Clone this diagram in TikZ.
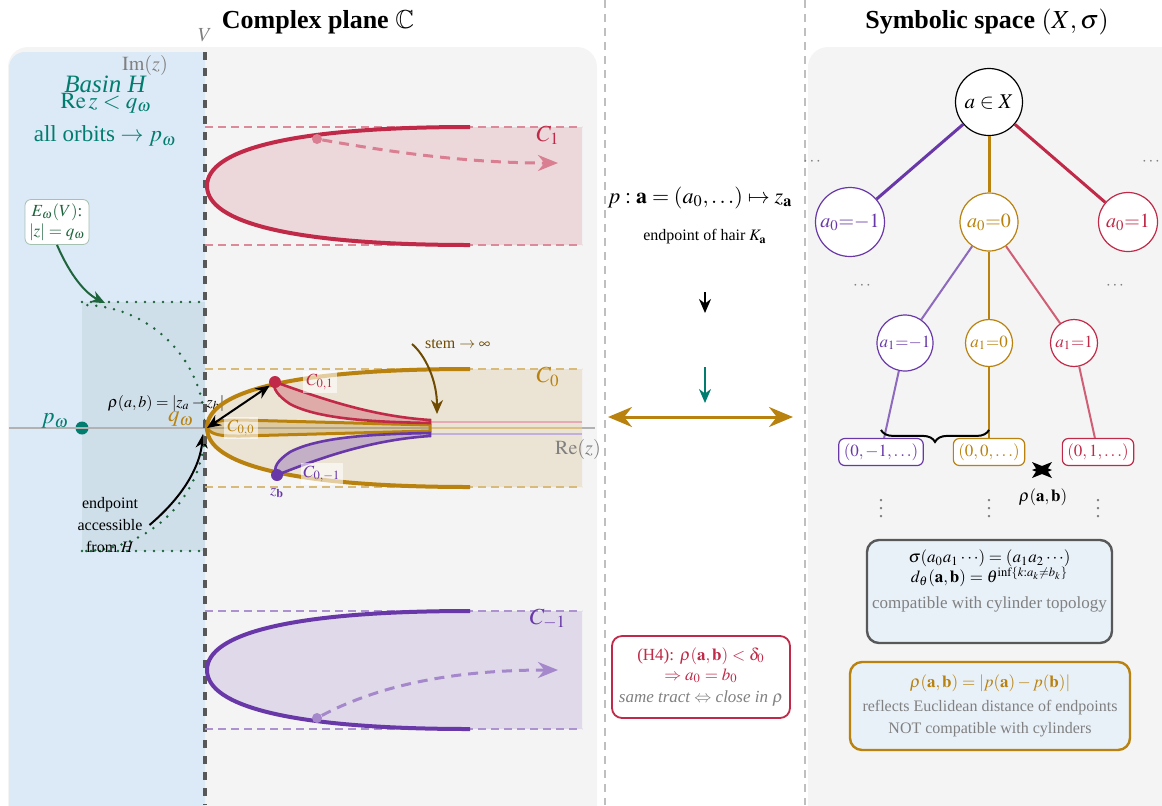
\documentclass[tikz,border=0pt]{standalone}
\usepackage{mathptmx}
\usepackage{amssymb}
\usepackage[no-math]{fontspec}
\setmainfont{Liberation Serif}
\usetikzlibrary{arrows.meta,positioning,decorations.pathreplacing}

\definecolor{panelgray}{RGB}{244,244,244}
\definecolor{basinblue}{RGB}{220,233,246}
\definecolor{accblue}{RGB}{207,223,234}
\definecolor{crim}{RGB}{192,42,72}
\definecolor{purp}{RGB}{104,56,168}
\definecolor{goldc}{RGB}{185,130,14}
\definecolor{tealc}{RGB}{0,125,110}
\definecolor{greenc}{RGB}{30,100,60}
\definecolor{stemc}{RGB}{110,75,0}
\definecolor{boxblue}{RGB}{232,240,248}
\definecolor{darkgr}{RGB}{88,88,88}

\tikzset{
  ftitle/.style={font=\fontsize{13}{15}\selectfont\bfseries},
  fbig/.style={font=\fontsize{11.5}{13.5}\selectfont},
  fmid/.style={font=\fontsize{10}{12}\selectfont},
  fsmall/.style={font=\fontsize{8.5}{10}\selectfont},
  ftiny/.style={font=\fontsize{8}{10}\selectfont},
  sepline/.style={gray!50, line width=0.6pt, dash pattern=on 4pt off 3pt},
  vline/.style={darkgr, line width=1.6pt, dash pattern=on 4pt off 4pt},
  tractline/.style={line width=2pt},
  tractedge/.style={line width=0.8pt, dash pattern=on 4pt off 2.5pt},
  greendots/.style={greenc, line width=1.4pt, dash pattern=on 0pt off 4.5pt, line cap=round},
  flow/.style={line width=1.5pt, dash pattern=on 5pt off 3.5pt, -{Stealth[length=10pt,width=8pt]}},
  ptdot/.style={circle, inner sep=0pt, minimum size=6pt},
  lvlnode/.style={circle, draw, fill=white, inner sep=0pt, line width=0.6pt},
  leaf/.style={draw, fill=white, rounded corners=3pt, inner sep=2.5pt, line width=0.6pt, fsmall},
  sublbl/.style={fill=white, fill opacity=0.6, text opacity=1, inner sep=1.5pt, fsmall},
  ebox/.style={draw=greenc!40, fill=white, rounded corners=3pt, text=greenc, align=center, fsmall, inner sep=2pt},
  h4box/.style={draw=crim, line width=0.9pt, fill=white, rounded corners=5pt, text=crim, align=center, fsmall, minimum width=89pt, minimum height=41pt},
  infobox/.style={fill=boxblue, line width=1.2pt, rounded corners=6pt},
  thinarrow/.style={line width=1pt, -{Stealth[length=7pt,width=6pt]}},
}

\begin{document}
\begin{tikzpicture}[x=0.5pt, y=-0.5pt]
\useasboundingbox (0,0) rectangle (1162,805);

% panels
\fill[panelgray, rounded corners=10pt] (8,47) rectangle (597,840);
\fill[panelgray, rounded corners=10pt] (808,47) rectangle (1200,840);
\fill[basinblue] (205,840) -- (205,52) [rounded corners=8pt] -- (9,52) [sharp corners] -- (9,840) -- cycle;
\draw[sepline] (605,0) -- (605,805);
\draw[sepline] (805,0) -- (805,805);

% titles
\node[ftitle] (ttlC) at (318,22) {Complex plane $\mathbb{C}$};
\node[ftitle] (ttlX) at (987,22) {Symbolic space $(X,\sigma)$};

% basin H
\node[font=\fontsize{12.5}{15}\selectfont\itshape, text=tealc] (lblbasin) at (105,84) {Basin H};
\node[fbig, text=tealc] (lblre) at (106,103) {$\mathrm{Re}\,z<q_\omega$};
\node[fbig, text=tealc] (lblorb) at (105,136) {all orbits $\to p_\omega$};
\node[fmid, text=gray] (lblim) at (145,65) {$\mathrm{Im}(z)$};
\node[fmid, text=gray] (lblV) at (205,35) {$V$};

\fill[accblue] (82,302) rectangle (205,551);
\draw[greendots] (82,302) -- (205,302);
\draw[greendots] (82,551) -- (205,551);
\begin{scope}
  \clip (82,300) rectangle (205,553);
  \draw[greendots] (82,428) circle[radius=123];
\end{scope}

\node[ptdot, fill=tealc, minimum size=6.5pt] (pw) at (82,428) {};
\draw[gray!60, line width=0.9pt] (9,428) -- (595,428);
\node[fbig, text=tealc] (lblpw) at (55,421) {$p_\omega$};
\node[fbig, text=goldc] (lblqw) at (181,419) {$q_\omega$};
\coordinate (qw) at (207,428);

\node[ebox] (ebox) at (57,222) {$E_\omega(V)$:\\$|z|=q_\omega$};
\draw[thinarrow, greenc] (ebox.south) .. controls (70,275) and (85,293) .. (105,303);

\node[ftiny, align=center] (lblacc) at (110,525) {endpoint\\[1pt]accessible\\[1pt]from $H$};
\draw[thinarrow] (lblacc.east) .. controls (185,495) and (200,465) .. (203,434);

\node[ftiny] (lblrho) at (166,403) {$\rho(a,b)=|z_a-z_b|$};

\draw[vline] (205,52) -- (205,805);

% tracts C_1, C_0, C_{-1}
\foreach \cy/\col/\nm/\lab in {186/crim/c1/{C_1}, 428/goldc/c0/{C_0}, 670/purp/cm/{C_{-1}}}{
  \fill[\col, fill opacity=0.14] (470,\cy-59) .. controls (290,\cy-59) and (207,\cy-36) .. (207,\cy)
     .. controls (207,\cy+36) and (290,\cy+59) .. (470,\cy+59) -- (582,\cy+59) -- (582,\cy-59) -- cycle;
  \draw[tractedge, \col!55] (205,\cy-59) -- (582,\cy-59);
  \draw[tractedge, \col!55] (205,\cy+59) -- (582,\cy+59);
  \draw[tractline, \col] (470,\cy-59) .. controls (290,\cy-59) and (207,\cy-36) .. (207,\cy)
     .. controls (207,\cy+36) and (290,\cy+59) .. (470,\cy+59);
  \node[fbig, text=\col] (lbl\nm) at (548,\cy-51) {$\lab$};
}
\draw[gray!60, line width=0.9pt] (207,428) -- (595,428);

% escaping orbits
\node[ptdot, fill=crim!60, minimum size=5pt] (s1) at (317,139) {};
\coordinate (e1) at (558,163);
\draw[flow, crim!60] (s1) .. controls (380,150) and (460,163) .. (e1);
\node[ptdot, fill=purp!60, minimum size=5pt] (sm) at (317,718) {};
\coordinate (em) at (558,670);
\draw[flow, purp!60] (sm) .. controls (370,690) and (440,670) .. (em);

% sub-tracts of C_0
\draw[crim!40, line width=1pt] (430,422) -- (582,422);
\draw[goldc!50, line width=1pt] (430,428) -- (582,428);
\draw[purp!40, line width=1pt] (430,434) -- (582,434);
\filldraw[draw=goldc, fill=goldc, fill opacity=0.25, line width=1.5pt] (207,428) .. controls (212,421) and (220,420) .. (240,420)
  -- (430,425) -- (430,431) -- (240,436) .. controls (220,436) and (212,435) .. (207,428) -- cycle;
\filldraw[draw=crim, fill=crim, fill opacity=0.3, line width=1.3pt] (275,382) .. controls (320,398) and (370,416) .. (430,420)
  -- (430,423) .. controls (380,422) and (320,420) .. (290,404) .. controls (278,396) and (272,388) .. (275,382) -- cycle;
\filldraw[draw=purp, fill=purp, fill opacity=0.3, line width=1.3pt] (277,475) .. controls (320,458) and (370,440) .. (430,436)
  -- (430,433) .. controls (380,434) and (320,436) .. (290,452) .. controls (278,460) and (272,468) .. (277,475) -- cycle;
\node[ptdot, fill=crim] (za) at (275,382) {};
\node[ptdot, fill=purp] (zb) at (277,475) {};
\node[sublbl, text=crim] (lblc01) at (320,382) {$C_{0,1}$};
\node[sublbl, text=goldc] (lblc00) at (241,428) {$C_{0,0}$};
\node[sublbl, text=purp] (lblc0m) at (322,474) {$C_{0,-1}$};
\node[ftiny, text=purp] (lblzb) at (277,493) {$z_{\mathbf{b}}$};
\draw[line width=1pt, {Stealth[length=7pt,width=6pt]}-{Stealth[length=7pt,width=6pt]}] (qw) -- (za);

\node[ftiny, text=stemc, anchor=west] (lblstem) at (418,344) {stem $\to\infty$};
\draw[thinarrow, stemc] ([xshift=-3pt]lblstem.west) .. controls (425,355) and (437,380) .. (437,414);
\node[fmid, text=gray] (lblrez) at (578,449) {$\mathrm{Re}(z)$};

% middle column
\node[font=\fontsize{11}{13}\selectfont] (pmap) at (700,198) {$p:\mathbf{a}=(a_0,\dots)\mapsto z_{\mathbf{a}}$};
\node[ftiny] (lblhair) at (705,237) {endpoint of hair $K_{\mathbf{a}}$};
\coordinate (ar1s) at (705,292);
\coordinate (ar1e) at (705,313);
\draw[thinarrow] (ar1s) -- (ar1e);
\coordinate (ar2s) at (705,367);
\coordinate (ar2e) at (705,403);
\draw[thinarrow, tealc] (ar2s) -- (ar2e);
\coordinate (pl) at (608,417);
\coordinate (pr) at (793,417);
\draw[goldc, line width=1.5pt, {Stealth[length=12pt,width=10pt]}-{Stealth[length=12pt,width=10pt]}] (pl) -- (pr);
\node[h4box] (h4) at (701,677) {(H4): $\rho(\mathbf{a},\mathbf{b})<\delta_0$\\ $\Rightarrow a_0=b_0$\\[1pt] {\color{gray}\itshape same tract $\Leftrightarrow$ close in $\rho$}};

% symbolic tree
\node[fsmall, text=gray] (dotsL) at (812,162) {$\cdots$};
\node[fsmall, text=gray] (dotsR) at (1151,162) {$\cdots$};
\node[lvlnode, draw=black, minimum size=33.5pt, font=\fontsize{10.5}{12}\selectfont] (root) at (989,102) {$a\in X$};
\node[lvlnode, draw=purp, text=purp, minimum size=34.5pt, fmid] (n0m) at (850,222) {$a_0{=}{-}1$};
\node[lvlnode, draw=goldc, text=goldc, minimum size=29pt, fmid] (n00) at (989,222) {$a_0{=}0$};
\node[lvlnode, draw=crim, text=crim, minimum size=29.5pt, fmid] (n0p) at (1128,222) {$a_0{=}1$};
\draw[purp, line width=1.5pt] (root) -- (n0m);
\draw[goldc, line width=1.5pt] (root) -- (n00);
\draw[crim, line width=1.5pt] (root) -- (n0p);
\node[fsmall, text=gray] (dots1) at (862,286) {$\cdots$};
\node[fsmall, text=gray] (dots2) at (1115,286) {$\cdots$};

\node[lvlnode, draw=purp, text=purp, minimum size=28pt, fsmall] (n1m) at (905,343) {$a_1{=}{-}1$};
\node[lvlnode, draw=goldc, text=goldc, minimum size=23.5pt, fsmall] (n10) at (989,343) {$a_1{=}0$};
\node[lvlnode, draw=crim, text=crim, minimum size=23.5pt, fsmall] (n1p) at (1074,343) {$a_1{=}1$};
\draw[purp!75, line width=1pt] (n00) -- (n1m);
\draw[goldc, line width=1.3pt] (n00) -- (n10);
\draw[crim!75, line width=1pt] (n00) -- (n1p);

\node[leaf, draw=purp, text=purp] (lm) at (881,452) {$(0,-1,\dots)$};
\node[leaf, draw=goldc, text=goldc] (l0) at (989,452) {$(0,0,\dots)$};
\node[leaf, draw=crim, text=crim] (lp) at (1098,452) {$(0,1,\dots)$};
\draw[purp!75, line width=1pt] (n1m) -- (lm);
\draw[goldc, line width=1.3pt] (n10) -- (l0);
\draw[crim!75, line width=1pt] (n1p) -- (lp);
\draw[decorate, decoration={brace, amplitude=6pt}, line width=1pt] ([yshift=4pt]l0.north) -- ([yshift=4pt]lm.north);

% rho between leaves: two overlapping heads
\fill (1032,470) -- (1052,462) .. controls (1049,466) .. (1047,470) .. controls (1049,474) .. (1052,478) -- cycle;
\fill (1052,470) -- (1032,462) .. controls (1035,466) .. (1037,470) .. controls (1035,474) .. (1032,478) -- cycle;
\node[fsmall] (lblrhoab) at (1043,497) {$\rho(\mathbf{a},\mathbf{b})$};
\foreach \xx/\nm in {881/vm, 989/v0, 1098/vp}
  \node[fmid, text=gray] (dots\nm) at (\xx,503) {$\vdots$};

% metric boxes
\node[infobox, draw=darkgr, minimum width=122.5pt, minimum height=51.5pt] (cylb) at (989.5,591.5) {};
\node[fsmall, align=center, below=2pt of cylb.north] (cylt) {$\sigma(a_0a_1\cdots)=(a_1a_2\cdots)$\\ $d_\theta(\mathbf{a},\mathbf{b})=\theta^{\inf\{k:a_k\neq b_k\}}$\\[3pt] {\color{gray}compatible with cylinder topology}};
\node[infobox, draw=goldc, minimum width=140pt, minimum height=44pt, align=center, ftiny] (eucb) at (990,706) {{\color{goldc}\fontsize{8.5}{10}\selectfont$\rho(\mathbf{a},\mathbf{b})=|p(\mathbf{a})-p(\mathbf{b})|$}\\[2pt] {\color{gray}reflects Euclidean distance of endpoints}\\[1pt] {\color{gray}NOT compatible with cylinders}};
\end{tikzpicture}
\end{document}
